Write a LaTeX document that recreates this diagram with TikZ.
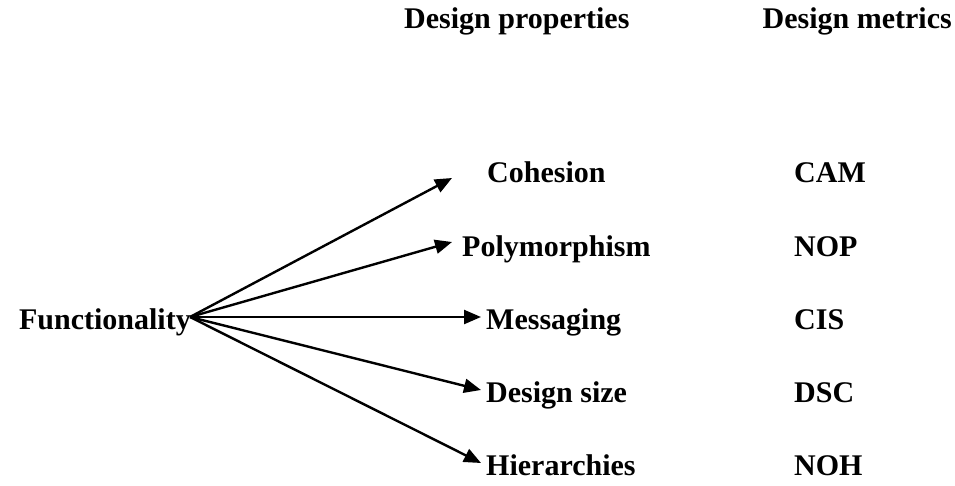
\documentclass[tikz,border=0pt]{standalone}
\usepackage{fontspec}
\setmainfont{Liberation Serif}
\usetikzlibrary{arrows.meta}
\begin{document}
\begin{tikzpicture}[x=1pt,y=-1pt,
  lbl/.style={inner sep=0pt,anchor=base west,font=\fontsize{30}{36}\selectfont\bfseries},
  link/.style={line width=2.4pt,-{Triangle[length=17pt,width=14pt]}}]
\useasboundingbox (0,0) rectangle (955,485);
% column headings
\node[lbl] (hprop) at (404,28) {Design properties};
\node[lbl,anchor=base east] (hmet) at (952,28) {Design metrics};
% source
\node[lbl,anchor=base east] (fun) at (191,329) {Functionality};
\coordinate (src) at (190,317);
% design properties
\node[lbl] (coh) at (487,182) {Cohesion};
\node[lbl] (poly) at (462,256) {Polymorphism};
\node[lbl] (msg) at (486,329) {Messaging};
\node[lbl] (dsz) at (486,402) {Design size};
\node[lbl] (hier) at (486,475) {Hierarchies};
% design metrics
\node[lbl] (cam) at (794,182) {CAM};
\node[lbl] (nop) at (794,256) {NOP};
\node[lbl] (cis) at (794,329) {CIS};
\node[lbl] (dsc) at (794,402) {DSC};
\node[lbl] (noh) at (794,475) {NOH};
% arrow tips
\coordinate (tcoh) at (452,178);
\coordinate (tpoly) at (452,242);
\coordinate (tmsg) at (481,317);
\coordinate (tdsz) at (481,390);
\coordinate (thier) at (481,463);
\draw[link] (src) -- (tcoh);
\draw[link] (src) -- (tpoly);
\draw[link] (src) -- (tmsg);
\draw[link] (src) -- (tdsz);
\draw[link] (src) -- (thier);
\end{tikzpicture}
\end{document}
